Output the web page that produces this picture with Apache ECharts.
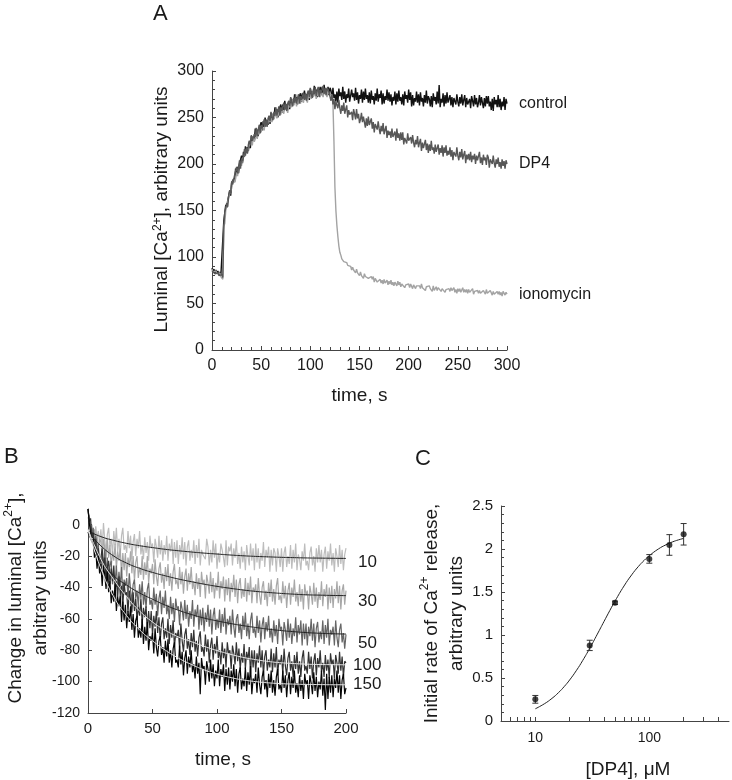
<!DOCTYPE html>
<html><head><meta charset="utf-8">
<script src="https://cdn.jsdelivr.net/npm/echarts@6/dist/echarts.min.js"></script>
<style>html,body{margin:0;padding:0;background:#fff}#c{width:732px;height:780px}</style>
</head><body><div id="c"></div>
<script>
// ---------- Panel A: luminal Ca2+ traces, one sample per second (0..300 s) ----------
const stepA = 1;
const controlTrace = [
88,84,87,83,86,82,85,81,84,80,82,78,
139,140,156,153,161,159,171,166,
180,178,184,181,195,188,197,190,200,199,
209,201,213,208,219,213,218,214,224,217,
230,225,230,225,238,230,237,230,238,237,
245,236,246,240,250,243,247,242,251,243,
255,250,254,249,261,252,259,250,258,256,
264,255,264,258,268,260,264,258,267,259,
271,266,269,264,275,266,272,264,271,269,
276,267,276,270,279,272,275,269,278,269,
281,275,278,273,284,274,280,272,279,276,
283,274,283,276,285,277,281,275,283,274,
282,
279,270,282,271,275,267,278,266,281,273,277,269,283,270,278,266,275,271,281,267,
265,280,272,276,268,282,269,277,265,274,270,280,266,278,269,281,270,274,266,277,
265,279,269,273,264,276,268,281,267,275,271,279,264,276,265,273,269,280,268,277,
267,275,263,272,268,278,264,276,267,279,268,272,264,275,263,278,270,274,266,280,
269,277,262,274,263,271,267,278,266,275,263,277,267,271,262,274,266,279,265,273,
270,262,273,261,276,268,272,264,278,265,285,261,270,266,276,262,274,265,277,266,
266,274,263,272,261,271,273,264,275,267,262,272,265,275,263,269,274,261,271,264,
263,270,260,273,268,262,274,264,271,261,266,274,263,272,270,260,271,262,273,265,
273,262,267,258,270,257,272,264,269,261,274,261,270,258,267,262,272,258,270,265];
const dp4Trace = [
85,83,86,82,84,81,83,80,82,79,81,78,
133,148,146,158,154,166,172,169,
181,178,177,188,186,197,190,197,204,195,
206,203,207,216,209,218,211,221,225,220,
231,225,223,232,229,239,230,237,242,233,
242,238,240,248,240,248,240,249,252,246,
256,250,247,256,252,261,252,257,262,252,
261,257,258,266,258,265,257,265,268,262,
272,266,262,271,266,275,265,271,275,265,
273,269,270,277,269,276,268,276,279,272,
282,275,271,280,275,283,273,279,283,272,
280,276,277,284,275,282,274,282,284,277,
279,
268,275,264,270,259,267,268,260,269,260,
254,263,257,266,254,259,263,250,258,253,
252,256,247,259,254,248,259,249,254,244,
248,255,245,251,249,239,249,241,251,242,
241,249,238,245,234,243,244,237,246,238,
232,241,235,244,232,237,241,228,236,231,
235,228,238,229,231,235,225,238,228,233,
225,234,226,234,221,228,230,222,233,225,
227,229,222,231,223,218,226,221,230,218,
223,227,214,223,217,218,226,215,222,212,
221,214,225,215,218,211,221,213,215,221,
210,217,212,220,208,218,212,220,209,214,
210,218,208,215,204,213,215,208,218,209,
204,213,207,216,205,210,214,201,210,205,
211,204,213,202,209,205,211,200,209,204,
203,213,201,207,199,210,204,207,199,210,
207,196,205,207,200,209,201,196,205,200,
207,197,202,195,205,198,203,195,204,200];
const ionoTrace = [
87,84,86,83,85,82,84,80,83,79,80,76,
133,136,150,156,155,156,168,168,
174,173,184,180,184,191,187,196,194,202,
198,205,207,204,213,216,212,211,221,219,
224,220,230,224,227,233,227,236,232,240,
234,240,240,236,244,246,241,239,248,245,
249,245,254,248,250,255,249,256,252,259,
253,259,258,254,262,263,258,255,264,261,
265,261,269,263,264,269,262,270,265,272,
265,271,270,266,273,274,269,266,275,271,
275,270,278,272,273,277,270,278,273,279,
272,278,277,272,279,280,275,272,280,276,
277,
276,274,265,225,175,150,134,122,112,105,
102,98,98,95,96,93,94,91,92,89,
90,86,89,86,86,83,87,83,84,80,
84,80,82,77,82,79,77,81,77,79,
75,79,76,79,73,77,77,73,75,72,
76,72,75,71,76,72,73,75,70,74,
71,75,70,73,69,73,71,69,74,70,
73,68,71,69,73,67,70,72,69,71,
67,71,69,66,70,72,66,69,67,70,
69,66,71,67,65,69,64,68,67,66,
69,66,68,63,69,64,66,68,64,67,
65,68,63,66,68,64,62,65,67,63,
66,63,67,64,65,67,62,65,61,66,
63,66,62,64,67,62,65,62,65,61,
65,62,64,61,66,60,63,65,62,64,
61,64,61,63,59,64,62,60,65,61,
63,60,64,62,59,63,60,62,59,63,
60,63,59,62,58,63,61,59,62,60];
const seriesNamesA = ['control', 'DP4', 'ionomycin'];

// ---------- Panel B: change in luminal Ca2+, one sample per second (0..200 s) ----------
const stepB = 1;
const trace10 = [
10,3,3,-5,-2,-10,-1,-9,-4,-12,
-3,-15,1,-10,-17,-6,-2,-14,-9,-19,
-4,-13,-2,-17,-9,-19,-7,-2,-16,-13,
-18,-4,-15,-7,-22,-11,-6,-20,-9,-15,
-4,-19,-13,-22,-8,-18,-11,-23,-7,-15,
-12,-24,-9,-14,-21,-7,-19,-10,-23,-13,
-19,-7,-23,-12,-17,-9,-25,-11,-21,-10,
-25,-13,-19,-8,-22,-11,-26,-14,-10,-23,
-16,-21,-10,-25,-13,-21,-9,-26,-16,-19,
-19,-22,-9,-14,-26,-16,-24,-10,-21,-12,
-28,-18,-24,-12,-16,-21,-27,-10,-26,-14,
-17,-12,-26,-15,-21,-10,-25,-18,-28,-14,
-24,-17,-29,-13,-20,-26,-12,-23,-15,-29,
-12,-24,-15,-28,-18,-23,-11,-27,-16,-21,
-14,-30,-16,-26,-15,-18,-30,-15,-20,-27,
-15,-30,-18,-14,-27,-20,-25,-13,-28,-16,
-24,-12,-29,-19,-22,-29,-17,-23,-12,-26,
-23,-29,-18,-14,-26,-20,-30,-15,-24,-13,
-24,-16,-30,-19,-14,-28,-17,-23,-12,-26,
-18,-30,-15,-20,-27,-13,-25,-16,-29,-19,
-15];
const trace30 = [
4,6,-3,0,-8,-3,-11,-8,-15,-9,
-11,-23,-9,-15,-22,-9,-21,-13,-27,-17,
-23,-12,-28,-17,-23,-15,-32,-18,-29,-18,
-33,-21,-27,-17,-31,-20,-36,-24,-20,-34,
-27,-32,-20,-35,-24,-32,-20,-37,-28,-31,
-25,-38,-22,-33,-39,-28,-24,-37,-31,-41,
-27,-36,-25,-39,-31,-42,-30,-25,-38,-35,
-41,-27,-38,-30,-44,-33,-28,-42,-31,-38,
-27,-41,-36,-45,-31,-41,-34,-46,-30,-38,
-35,-47,-32,-37,-44,-30,-43,-34,-47,-37,
-42,-30,-47,-36,-41,-33,-49,-35,-45,-34,
-49,-37,-43,-32,-46,-35,-50,-38,-34,-47,
-41,-46,-34,-49,-37,-45,-33,-50,-40,-43,
-38,-50,-34,-45,-51,-40,-36,-48,-42,-52,
-37,-46,-35,-49,-41,-51,-39,-34,-48,-45,
-50,-36,-47,-39,-53,-42,-37,-51,-40,-46,
-35,-49,-43,-52,-38,-49,-41,-54,-38,-45,
-42,-54,-39,-44,-51,-37,-49,-40,-53,-43,
-48,-36,-52,-41,-46,-38,-54,-40,-50,-39,
-53,-41,-47,-36,-50,-39,-54,-42,-38,-51,
-42];
const trace50 = [
10,3,4,-6,-2,-13,-7,-17,-12,-26,
-30,-19,-26,-16,-31,-21,-37,-26,-23,-38,
-32,-37,-26,-41,-30,-39,-27,-45,-35,-39,
-34,-46,-31,-42,-49,-38,-35,-47,-42,-52,
-38,-47,-36,-51,-43,-53,-41,-37,-51,-48,
-54,-40,-51,-44,-58,-47,-42,-57,-46,-53,
-42,-57,-51,-60,-46,-57,-50,-62,-47,-54,
-52,-64,-49,-54,-61,-48,-60,-51,-65,-55,
-60,-48,-65,-54,-59,-51,-67,-54,-64,-53,
-68,-56,-62,-51,-65,-54,-70,-58,-53,-67,
-60,-66,-54,-69,-57,-65,-53,-70,-60,-64,
-58,-70,-54,-65,-72,-60,-57,-69,-63,-73,
-58,-67,-56,-71,-63,-73,-61,-56,-69,-66,
-72,-58,-69,-61,-75,-64,-59,-73,-62,-68,
-58,-72,-66,-75,-61,-71,-64,-76,-60,-67,
-65,-77,-62,-67,-74,-60,-72,-63,-76,-66,
-71,-59,-75,-64,-70,-61,-77,-63,-73,-63,
-77,-65,-71,-60,-74,-63,-78,-66,-62,-75,
-68,-73,-61,-76,-64,-72,-60,-77,-67,-70,
-65,-77,-61,-72,-78,-67,-63,-75,-69,-79,
-70];
const trace100 = [
10,2,4,-8,-5,-16,-9,-21,-15,-27,
-28,-15,-28,-21,-36,-27,-23,-38,-28,-36,
-26,-41,-36,-46,-33,-45,-39,-52,-37,-45,
-43,-56,-42,-48,-56,-43,-55,-47,-61,-52,
-58,-47,-63,-53,-59,-52,-68,-55,-66,-55,
-70,-58,-65,-55,-69,-59,-74,-63,-59,-73,
-66,-72,-60,-76,-64,-72,-61,-78,-69,-72,
-67,-79,-63,-74,-81,-70,-66,-79,-73,-83,
-69,-78,-67,-81,-74,-84,-72,-68,-81,-78,
-84,-70,-81,-73,-88,-77,-72,-86,-76,-82,
-71,-85,-80,-89,-75,-85,-79,-91,-75,-82,
-80,-92,-77,-82,-89,-75,-87,-79,-92,-82,
-88,-76,-92,-81,-86,-78,-95,-80,-91,-80,
-94,-82,-88,-77,-91,-80,-96,-84,-80,-93,
-86,-91,-79,-94,-82,-91,-78,-96,-86,-89,
-83,-95,-79,-90,-96,-85,-81,-93,-87,-97,
-83,-92,-81,-95,-87,-97,-85,-80,-93,-90,
-95,-81,-92,-84,-98,-87,-82,-96,-85,-91,
-80,-94,-88,-97,-83,-93,-86,-98,-82,-89,
-86,-98,-83,-88,-95,-81,-93,-84,-97,-87,
-88];
const trace150 = [
10,1,2,-11,-9,-21,-16,-28,-20,-31,
-25,-39,-26,-32,-41,-29,-43,-36,-50,-42,
-49,-38,-55,-46,-52,-45,-62,-49,-61,-51,
-66,-55,-62,-52,-67,-57,-72,-61,-58,-72,
-66,-72,-60,-76,-65,-74,-62,-80,-71,-74,
-69,-82,-66,-78,-84,-74,-71,-83,-78,-88,
-74,-84,-73,-88,-80,-91,-79,-75,-88,-86,
-91,-77,-89,-81,-96,-85,-80,-95,-84,-91,
-80,-94,-89,-98,-84,-95,-88,-108,-85,-92,
-90,-102,-87,-92,-100,-86,-98,-89,-103,-93,
-98,-86,-103,-92,-97,-89,-106,-92,-102,-91,
-105,-93,-100,-89,-103,-92,-107,-95,-91,-105,
-98,-103,-91,-106,-94,-102,-90,-108,-98,-101,
-95,-107,-91,-102,-108,-97,-93,-105,-99,-110,
-95,-104,-93,-107,-99,-109,-97,-92,-105,-102,
-107,-93,-104,-96,-110,-99,-94,-108,-97,-104,
-93,-107,-101,-110,-96,-106,-99,-111,-95,-102,
-99,-111,-96,-101,-108,-94,-106,-97,-110,-100,
-105,-93,-109,-98,-118,-95,-111,-97,-107,-96,
-110,-98,-104,-93,-107,-96,-111,-99,-95,-108,
-104];
// exponential fits, read every 10 s
const fitTimesB = [0,10,20,30,40,50,60,70,80,90,100,110,120,130,140,150,160,170,180,190,200];
const fit10  = [-4,-7.6,-10,-11.9,-13.4,-14.6,-15.7,-16.6,-17.4,-18.1,-18.7,-19.3,-19.8,-20.2,-20.5,-20.8,-21,-21.2,-21.3,-21.4,-21.5];
const fit30  = [-5,-13.5,-20,-24.5,-27.8,-30.4,-32.6,-34.6,-36.3,-37.9,-39.3,-40.5,-41.6,-42.5,-43.2,-43.8,-44.3,-44.7,-44.9,-45.1,-45.2];
const fit50  = [-5,-22,-32.5,-38.5,-43.5,-47.5,-51.3,-54.5,-57.2,-59.5,-61.3,-62.9,-64.3,-65.5,-66.6,-67.5,-68.2,-68.8,-69.2,-69.5,-69.7];
const fit100 = [-3,-22,-35,-46,-55,-62,-67.3,-71.5,-74.5,-77.5,-80.2,-82.5,-84.5,-86,-87.2,-88,-88.5,-88.9,-89.1,-89.2,-89.3];
const fit150 = [-3,-28,-46,-58,-67,-74,-80,-85,-89,-92.5,-95.2,-97.3,-98.9,-100,-100.8,-101.3,-101.6,-101.8,-101.9,-102,-102];
const doseLabelsB = ['10', '30', '50', '100', '150'];
const tickValuesBY = [-120, -100, -80, -60, -40, -20, 0];

// ---------- Panel C: initial rate vs [DP4] ----------
const concDP4 = [10, 30, 50, 100, 150, 200];
const rateDP4 = [0.252, 0.879, 1.374, 1.885, 2.047, 2.171];
const errDP4  = [0.045, 0.06, 0.02, 0.05, 0.12, 0.125];
const fitConc = [10,12,14,16,18,20,23,26,30,35,40,45,50,60,70,80,90,100,120,140,160,180,200];
const fitRate = [0.142,0.200,0.263,0.331,0.403,0.477,0.590,0.702,0.845,1.010,1.156,1.284,1.394,1.570,1.699,1.795,1.867,1.922,2.000,2.049,2.083,2.106,2.123];
const labelValuesCX = [10, 100];
const tickValuesCX = [6,7,8,9,10,20,30,40,50,60,70,80,90,100,200,300,400];

// ---------- build ----------
const FONT = '"Liberation Sans", Arial, sans-serif';
const AX = '#444', TXT = '#1a1a1a';
const pairs = (arr, step) => arr.map((v, i) => [i * step, v]);
const zip = (xs, ys) => xs.map((x, i) => [x, ys[i]]);
const supRich = (fs) => ({ sup: { fontSize: fs, fontFamily: FONT, color: TXT, verticalAlign: 'top' } });
const nameStyle = (extra) => Object.assign({ fontSize: 19, color: TXT, fontFamily: FONT }, extra || {});

function axisCommon(fs) {
  return {
    axisLine: { show: true, onZero: false, lineStyle: { color: AX, width: 1 } },
    axisTick: { show: true, inside: true, length: 4, lineStyle: { color: AX } },
    axisLabel: { color: TXT, fontSize: fs, fontFamily: FONT },
    splitLine: { show: false },
    nameLocation: 'middle',
    nameMoveOverlap: false
  };
}

const chart = echarts.init(document.getElementById('c'), null, { renderer: 'canvas' });

const lineA = (name, data, color, z) => ({
  type: 'line', name, xAxisIndex: 0, yAxisIndex: 0, data: pairs(data, stepA),
  symbol: 'none', silent: true, z, animation: false,
  lineStyle: { color, width: 1.4 }, itemStyle: { color },
  endLabel: { show: true, formatter: name, distance: 12, fontSize: 16, color: TXT, fontFamily: FONT }
});
const traceB = (data, color, z) => ({
  type: 'line', xAxisIndex: 1, yAxisIndex: 1, data: pairs(data, stepB),
  symbol: 'none', silent: true, z, animation: false, lineStyle: { color, width: 1.2 }
});
const fitB = (data, color, label, offY, dist) => ({
  type: 'line', xAxisIndex: 1, yAxisIndex: 1, data: zip(fitTimesB, data),
  symbol: 'none', smooth: true, silent: true, z: 10, animation: false,
  lineStyle: { color, width: 1 }, itemStyle: { color },
  endLabel: { show: true, formatter: label, distance: dist, offset: [0, offY], fontSize: 17, color: TXT, fontFamily: FONT }
});

const letter = (t, left, top) => ({ text: t, left, top, textStyle: { fontSize: 22, fontWeight: 'normal', color: TXT, fontFamily: FONT } });

const option = {
  animation: false,
  backgroundColor: '#fff',
  textStyle: { fontFamily: FONT },
  title: [letter('A', 148, -2), letter('B', -1, 441), letter('C', 410, 443)],
  grid: [
    { left: 212, top: 71, width: 295, height: 279, outerBoundsMode: 'none' },
    { left: 88, top: 509, width: 258, height: 204, outerBoundsMode: 'none' },
    { left: 501, top: 506, width: 228, height: 215, outerBoundsMode: 'none' }
  ],
  xAxis: [
    Object.assign(axisCommon(16), {
      gridIndex: 0, type: 'value', min: 0, max: 300, interval: 50,
      minorTick: { show: true, splitNumber: 5, length: 3, lineStyle: { color: AX } },
      name: 'time, s', nameGap: 36, nameTextStyle: nameStyle()
    }),
    Object.assign(axisCommon(15), {
      gridIndex: 1, type: 'value', min: 0, max: 200, interval: 50,
      name: 'time, s', nameGap: 37, nameTextStyle: nameStyle({ padding: [0, 0, 0, 12] })
    }),
    Object.assign(axisCommon(14), {
      gridIndex: 2, type: 'log', logBase: 10, min: 5, max: 500,
      axisLabel: { color: TXT, fontSize: 14, fontFamily: FONT, customValues: labelValuesCX, margin: 10 },
      axisTick: { show: true, inside: true, length: 4, lineStyle: { color: AX }, customValues: tickValuesCX },
      name: '[DP4], μM', nameGap: 39, nameTextStyle: nameStyle({ padding: [0, 0, 0, 26] })
    })
  ],
  yAxis: [
    Object.assign(axisCommon(16), {
      gridIndex: 0, type: 'value', min: 0, max: 300, interval: 50,
      minorTick: { show: true, splitNumber: 5, length: 3, lineStyle: { color: AX } },
      name: 'Luminal [Ca{sup|2+}], arbitrary units', nameGap: 41,
      nameTextStyle: nameStyle({ padding: [0, 0, 0, 2], rich: supRich(12) })
    }),
    Object.assign(axisCommon(14), {
      gridIndex: 1, type: 'value', min: -120, max: 10,
      axisLabel: { color: TXT, fontSize: 14, fontFamily: FONT, customValues: tickValuesBY },
      axisTick: { show: true, inside: true, length: 4, lineStyle: { color: AX }, customValues: tickValuesBY },
      name: 'Change in luminal [Ca{sup|2+}],\narbitrary units', nameGap: 35,
      nameTextStyle: nameStyle({ lineHeight: 25, padding: [0, 0, 0, 26], rich: supRich(12) })
    }),
    Object.assign(axisCommon(15), {
      gridIndex: 2, type: 'value', min: 0, max: 2.5, interval: 0.5,
      minorTick: { show: true, splitNumber: 5, length: 3, lineStyle: { color: AX } },
      name: 'Initial rate of Ca{sup|2+} release,\narbitrary units', nameGap: 32,
      nameTextStyle: nameStyle({ lineHeight: 25, rich: supRich(12) })
    })
  ],
  series: [
    lineA(seriesNamesA[0], controlTrace, '#111111', 2),
    lineA(seriesNamesA[2], ionoTrace, '#a3a3a3', 3),
    lineA(seriesNamesA[1], dp4Trace, '#575757', 4),

    traceB(trace10, '#bdbdbd', 2),
    traceB(trace30, '#a8a8a8', 3),
    traceB(trace50, '#666666', 4),
    traceB(trace100, '#333333', 5),
    traceB(trace150, '#050505', 6),
    fitB(fit10, '#222', doseLabelsB[0], 4, 12),
    fitB(fit30, '#222', doseLabelsB[1], 6, 12),
    fitB(fit50, '#222', doseLabelsB[2], 9, 12),
    fitB(fit100, '#e6e6e6', doseLabelsB[3], 0, 7),
    fitB(fit150, '#e6e6e6', doseLabelsB[4], 0, 7),

    {
      type: 'line', xAxisIndex: 2, yAxisIndex: 2, data: zip(fitConc, fitRate),
      symbol: 'none', smooth: true, silent: true, lineStyle: { color: '#222', width: 1 }, z: 3
    },
    {
      type: 'custom', xAxisIndex: 2, yAxisIndex: 2, silent: true, z: 4,
      data: concDP4.map((c, i) => [c, rateDP4[i] - errDP4[i], rateDP4[i] + errDP4[i]]),
      encode: { x: 0, y: [1, 2] },
      renderItem: (params, api) => {
        const x = api.value(0);
        const lo = api.coord([x, api.value(1)]);
        const hi = api.coord([x, api.value(2)]);
        const w = 3, st = { stroke: '#333', lineWidth: 1 };
        return { type: 'group', children: [
          { type: 'line', shape: { x1: lo[0], y1: lo[1], x2: hi[0], y2: hi[1] }, style: st },
          { type: 'line', shape: { x1: lo[0] - w, y1: lo[1], x2: lo[0] + w, y2: lo[1] }, style: st },
          { type: 'line', shape: { x1: hi[0] - w, y1: hi[1], x2: hi[0] + w, y2: hi[1] }, style: st }
        ]};
      }
    },
    {
      type: 'scatter', xAxisIndex: 2, yAxisIndex: 2, data: zip(concDP4, rateDP4),
      symbol: 'circle', symbolSize: 6, silent: true, z: 5, itemStyle: { color: '#111' }
    }
  ]
};
chart.setOption(option);
</script>
</body></html>
